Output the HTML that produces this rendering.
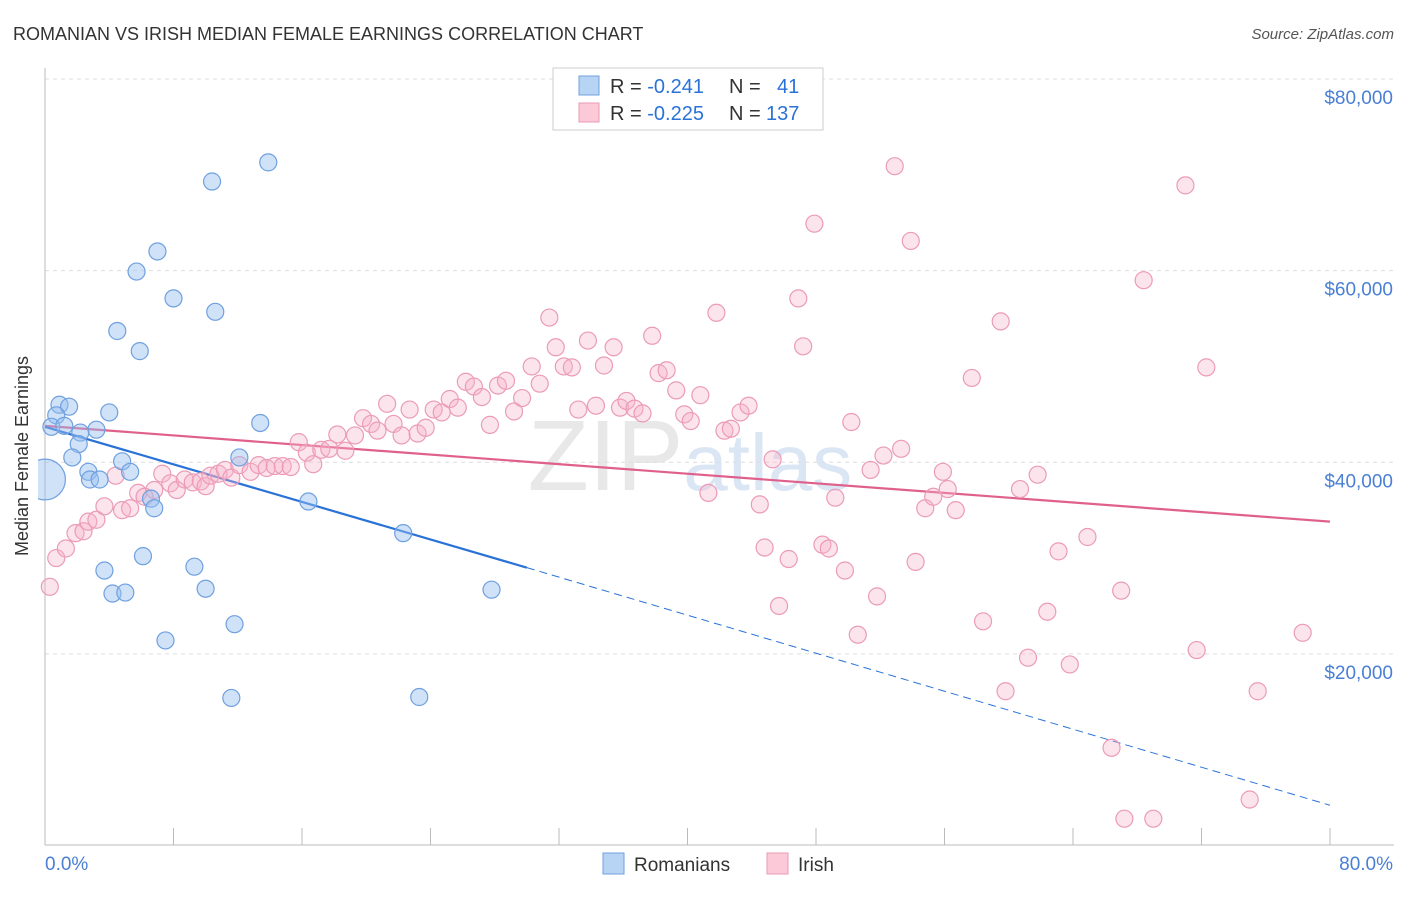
<!DOCTYPE html>
<html><head><meta charset="utf-8"><style>
body{margin:0;background:#fff;font-family:"Liberation Sans",sans-serif;}
svg text{font-family:"Liberation Sans",sans-serif;}
</style></head><body>
<svg id="chart" width="1406" height="892" viewBox="0 0 1406 892" xmlns="http://www.w3.org/2000/svg">
<defs><clipPath id="plotclip"><rect x="38" y="60" width="1370" height="786"/></clipPath></defs>
<text x="13" y="40" font-size="18" fill="#333">ROMANIAN VS IRISH MEDIAN FEMALE EARNINGS CORRELATION CHART</text>
<text x="1394" y="39" font-size="15" fill="#555" text-anchor="end" font-style="italic">Source: ZipAtlas.com</text>
<text x="690" y="490" font-size="100" fill="#e8e8e8" text-anchor="middle" font-family="Liberation Serif">ZIP<tspan fill="#dbe6f5" font-family="Liberation Sans" font-size="80">atlas</tspan></text>
<g id="grid"></g>
<g id="axes"></g>
<g id="trend"></g>
<g id="pts" clip-path="url(#plotclip)"></g>
<text x="28" y="456" font-size="18" fill="#333" text-anchor="middle" transform="rotate(-90 28 456)">Median Female Earnings</text>
<text x="45" y="870" font-size="19" fill="#4a7fd4">0.0%</text>
<text x="1393" y="870" font-size="19" fill="#4a7fd4" text-anchor="end">80.0%</text>
<g>
<rect x="553" y="68" width="270" height="62" fill="#fff" stroke="#ccc"/>
<rect x="579" y="76" width="20" height="19" fill="#b8d4f5" stroke="#6fa0df"/>
<rect x="579" y="103" width="20" height="19" fill="#fbc9d8" stroke="#e99ab5"/>
<text x="610" y="93" font-size="20" fill="#333">R = <tspan fill="#2a72d8">-0.241</tspan><tspan x="729">N = </tspan><tspan x="777" fill="#2a72d8">41</tspan></text>
<text x="610" y="120" font-size="20" fill="#333">R = <tspan fill="#2a72d8">-0.225</tspan><tspan x="729">N = </tspan><tspan x="766" fill="#2a72d8">137</tspan></text>
</g>
<g>
<rect x="603" y="853" width="21" height="21" fill="#b8d4f5" stroke="#6fa0df"/>
<text x="634" y="871" font-size="19" fill="#333">Romanians</text>
<rect x="767" y="853" width="21" height="21" fill="#fbc9d8" stroke="#e99ab5"/>
<text x="798" y="871" font-size="19" fill="#333">Irish</text>
</g>
</svg>
<script>
const yTicks=[20,40,60,80];
const yTickLabels=["$20,000","$40,000","$60,000","$80,000"];
const xTicks=[0,8,16,24,32,40,48,56,64,72,80];
const blueX=[13.9,10.4,7.0,5.7,8.0,10.6,4.5,5.9,0.9,1.5,4.0,0.7,0.4,1.2,3.2,2.2,2.1,13.4,1.7,4.8,12.1,2.7,5.3,2.8,3.4,6.6,6.8,16.4,22.3,6.1,3.7,9.3,4.2,5.0,10.0,27.8,7.5,11.8,11.6,23.3,0.0];
const blueY=[71.3,69.3,62.0,59.9,57.1,55.7,53.7,51.6,46.0,45.8,45.2,44.9,43.7,43.8,43.4,43.1,41.9,44.1,40.5,40.1,40.5,39.0,39.0,38.2,38.2,36.2,35.2,35.9,32.6,30.2,28.7,29.1,26.3,26.4,26.8,26.7,21.4,23.1,15.4,15.5,38.2];
const blueSize=[1,1,1,1,1,1,1,1,1,1,1,1,1,1,1,1,1,1,1,1,1,1,1,1,1,1,1,1,1,1,1,1,1,1,1,1,1,1,1,1,2.4];
const pinkX=[0.3,0.7,1.3,1.9,2.4,2.7,3.2,3.7,4.4,4.8,5.3,5.8,6.2,6.8,7.3,7.8,8.2,8.7,9.2,9.7,10.0,10.3,10.8,11.2,11.6,12.1,12.8,13.3,13.8,14.3,14.8,15.3,15.8,16.3,16.7,17.2,17.7,18.2,18.7,19.3,19.8,20.3,20.7,21.3,21.7,22.2,22.7,23.2,23.7,24.2,24.7,25.2,25.7,26.2,26.7,27.2,27.7,28.2,28.7,29.2,29.7,30.3,30.8,31.4,31.8,32.3,32.8,33.2,33.8,34.3,34.8,35.4,35.8,36.2,36.7,37.2,37.8,38.2,38.7,39.3,39.8,40.2,40.8,41.3,41.8,42.3,42.7,43.3,43.8,44.5,44.8,45.3,45.7,46.3,46.9,47.2,47.9,48.4,48.8,49.2,49.8,50.2,50.6,51.4,51.8,52.2,52.9,53.3,53.9,54.2,54.8,55.3,55.9,56.2,56.7,57.7,58.4,59.5,59.8,60.7,61.2,61.8,62.4,63.1,63.8,64.9,66.4,67.0,67.2,68.4,69.0,71.0,71.7,72.3,75.0,75.5,78.3];
const pinkY=[27.0,30.0,31.0,32.6,32.8,33.8,34.0,35.4,38.6,35.0,35.2,36.8,36.4,37.1,38.8,37.8,37.1,38.2,37.9,38.0,37.5,38.6,38.8,39.2,38.4,39.7,39.0,39.7,39.4,39.6,39.6,39.5,42.1,41.0,39.8,41.3,41.4,42.9,41.2,42.8,44.6,44.0,43.3,46.1,44.0,42.8,45.5,43.0,43.6,45.5,45.2,46.6,45.7,48.4,47.9,46.8,43.9,48.0,48.5,45.3,46.7,50.0,48.2,55.1,52.0,50.0,49.9,45.5,52.7,45.9,50.1,52.0,45.7,46.4,45.6,45.1,53.2,49.3,49.6,47.5,45.0,44.3,47.0,36.8,55.6,43.3,43.5,45.2,45.9,35.6,31.1,40.3,25.0,29.9,57.1,52.1,64.9,31.4,31.0,36.3,28.7,44.2,22.0,39.2,26.0,40.7,70.9,41.4,63.1,29.6,35.2,36.4,39.0,37.2,35.0,48.8,23.4,54.7,16.1,37.2,19.6,38.7,24.4,30.7,18.9,32.2,10.2,26.6,2.8,59.0,2.8,68.9,20.4,49.9,4.8,16.1,22.2];
const blueTrend=[[0,43.7],[30.0,29.0],[80,4.2]];
const pinkTrend=[[0,43.8],[80,33.8]];
const NS="http://www.w3.org/2000/svg";
const X0=45,X1=1330,YB=845.5,YT=79;
const sx=v=>X0+(v/80)*(X1-X0);
const sy=v=>YB-(v/80)*(YB-YT);
function mk(tag,attrs,parent){const e=document.createElementNS(NS,tag);for(const k in attrs)e.setAttribute(k,attrs[k]);parent.appendChild(e);return e;}
const grid=document.getElementById('grid'),axes=document.getElementById('axes'),trend=document.getElementById('trend'),pts=document.getElementById('pts');
yTicks.forEach((t,i)=>{
 const l=mk('line',{x1:45,x2:1394,y1:sy(t),y2:sy(t),stroke:'#ddd','stroke-dasharray':'4,4'},grid);
 
 
 const tx=mk('text',{x:1393,y:sy(t)+25,'font-size':19,fill:'#4a7fd4','text-anchor':'end'},axes);
 tx.textContent=yTickLabels[i];
 
 
});
const ya=mk('line',{x1:45,x2:45,y1:68,y2:845,stroke:'#bbb'},axes);


const xa=mk('line',{x1:45,x2:1394,y1:845,y2:845,stroke:'#bbb'},axes);


xTicks.forEach(t=>{
 const l=mk('line',{x1:sx(t),x2:sx(t),y1:828,y2:845,stroke:'#bbb'},axes);
 
 
});
function dot(x,y,r,fill,stroke,name){
 const c=mk('circle',{cx:sx(x),cy:sy(y),r:r,fill:fill,stroke:stroke,'stroke-width':1.2},pts);
 
 
}
pinkX.forEach((x,i)=>dot(x,pinkY[i],8.5,'rgba(246,178,200,0.35)','#eb9bb7','point-irish'));
blueX.forEach((x,i)=>dot(x,blueY[i],8.5*blueSize[i],'rgba(150,190,240,0.45)','#6fa0df','point-romanians'));
const pl=mk('line',{x1:sx(pinkTrend[0][0]),y1:sy(pinkTrend[0][1]),x2:sx(pinkTrend[1][0]),y2:sy(pinkTrend[1][1]),stroke:'#e0608c','stroke-width':2.2},trend);


const bl=mk('line',{x1:sx(blueTrend[0][0]),y1:sy(blueTrend[0][1]),x2:sx(blueTrend[1][0]),y2:sy(blueTrend[1][1]),stroke:'#2a72d8','stroke-width':2.2},trend);


const bd=mk('line',{x1:sx(blueTrend[1][0]),y1:sy(blueTrend[1][1]),x2:sx(blueTrend[2][0]),y2:sy(blueTrend[2][1]),stroke:'#2a72d8','stroke-width':1,'stroke-dasharray':'8,5'},trend);


</script>
</body></html>
